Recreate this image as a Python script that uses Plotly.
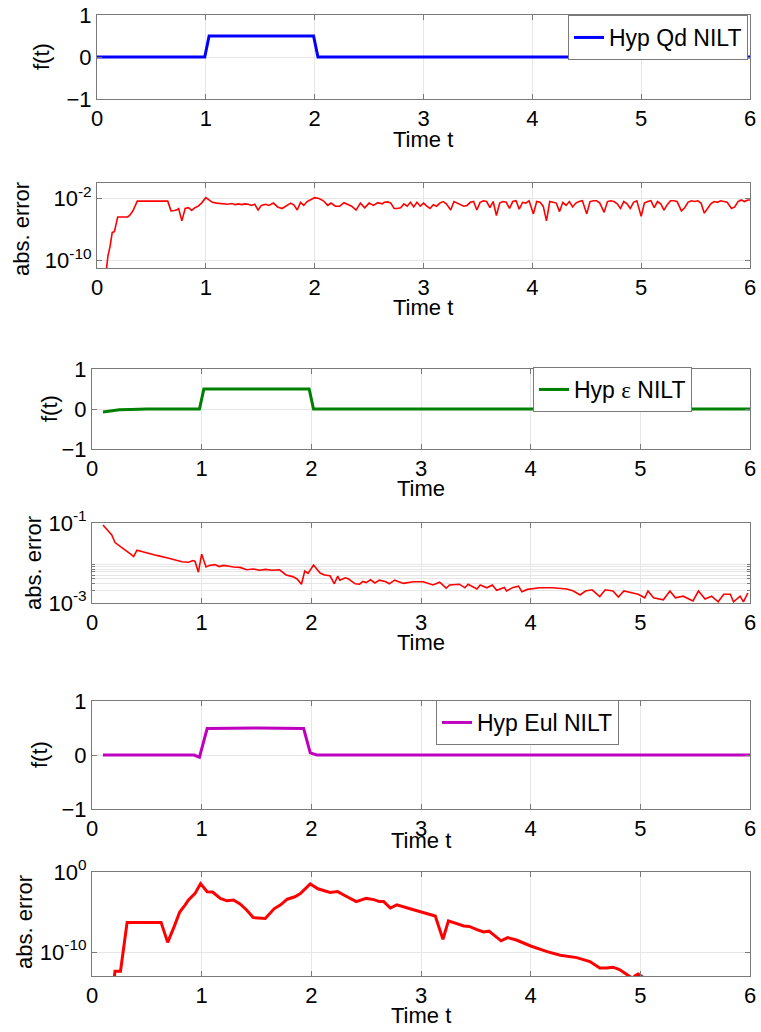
import numpy as np
import plotly.graph_objects as go

# ---------------- data ----------------
# Panel 1: Hyp Qd NILT
t_qd = [0.0, 0.5, 0.99, 1.03, 1.5, 1.99, 2.03, 2.5, 3.0, 3.5, 4.0, 4.5, 5.0, 5.5, 6.0]
f_qd = [0.0, 0.0, 0.0, 0.5, 0.5, 0.5, 0.0, 0.0, 0.0, 0.0, 0.0, 0.0, 0.0, 0.0, 0.0]

# Panel 2: abs. error of Qd (log10 of error)
t_e1 = [0.08, 0.10, 0.12, 0.14, 0.16, 0.19, 0.28, 0.30, 0.33, 0.37, 0.65, 0.68, 0.71, 0.73, 0.75,
        0.78, 0.81, 0.84, 0.87, 0.90, 0.93, 0.96, 1.00, 1.03, 1.06, 1.10, 1.15, 1.20, 1.24, 1.27,
        1.30, 1.33, 1.36, 1.39, 1.42, 1.45, 1.48, 1.51, 1.55, 1.58, 1.62, 1.66, 1.70, 1.74, 1.78,
        1.81, 1.84, 1.87, 1.90, 1.93, 1.96, 2.00, 2.04, 2.08, 2.12, 2.15, 2.19, 2.23, 2.27, 2.30,
        2.34, 2.38, 2.42, 2.46, 2.50, 2.54, 2.58, 2.62, 2.64, 2.67, 2.70, 2.73, 2.76, 2.79, 2.82,
        2.85, 2.88, 2.91, 2.94, 2.97, 3.00, 3.03, 3.06, 3.09, 3.12, 3.15, 3.18, 3.21, 3.25, 3.28,
        3.31, 3.34, 3.37, 3.40, 3.43, 3.46, 3.49, 3.52, 3.55, 3.58, 3.61, 3.64, 3.67, 3.70, 3.73,
        3.76, 3.79, 3.82, 3.85, 3.88, 3.91, 3.94, 3.97, 4.01, 4.04, 4.07, 4.10, 4.13, 4.16, 4.19,
        4.22, 4.25, 4.28, 4.31, 4.34, 4.37, 4.40, 4.43, 4.46, 4.50, 4.53, 4.56, 4.59, 4.62, 4.66,
        4.69, 4.72, 4.75, 4.78, 4.81, 4.84, 4.87, 4.90, 4.93, 4.96, 5.00, 5.03, 5.06, 5.09, 5.12,
        5.15, 5.18, 5.21, 5.24, 5.27, 5.30, 5.33, 5.37, 5.40, 5.43, 5.46, 5.49, 5.52, 5.55, 5.58,
        5.61, 5.64, 5.67, 5.70, 5.73, 5.76, 5.79, 5.83, 5.86, 5.89, 5.92, 5.95, 5.98, 6.00]
lg_e1 = [-12.0, -9.5, -8.2, -6.4, -6.3, -4.4, -4.4, -4.2, -3.6, -2.35, -2.35, -3.6, -3.55, -3.5, -3.3,
         -4.9, -3.3, -3.2, -3.55, -3.2, -3.0, -2.6, -1.9, -2.2, -2.5, -2.6, -2.7, -2.75, -2.65, -2.8,
         -2.7, -2.8, -2.7, -2.75, -2.9, -2.75, -3.5, -2.9, -2.75, -2.9, -2.6, -3.1, -3.3, -2.9, -2.6,
         -2.85, -3.5, -2.5, -2.9, -2.4, -2.2, -1.9, -2.0, -2.3, -2.9, -2.6, -3.0, -3.0, -2.55, -2.7,
         -3.0, -3.5, -2.6, -3.2, -2.6, -2.9, -2.55, -2.7, -2.5, -2.45, -2.6, -3.3, -3.3, -3.2, -2.7,
         -3.0, -2.5, -3.1, -2.5, -3.0, -2.6, -3.0, -3.3, -2.8, -3.0, -2.6, -2.4, -2.7, -3.5, -2.4,
         -2.6, -2.9, -3.0, -2.9, -2.5, -2.4, -3.5, -2.5, -2.3, -2.4, -3.2, -2.4, -4.2, -2.6, -2.4,
         -2.5, -3.3, -2.4, -2.3, -3.4, -2.5, -2.6, -2.3, -4.0, -2.4, -2.5, -3.0, -4.9, -2.4, -2.5,
         -2.6, -3.7, -2.5, -2.9, -2.4, -3.1, -2.6, -2.4, -2.3, -4.0, -2.4, -2.3, -2.3, -2.6, -3.8,
         -2.4, -2.3, -2.4, -2.7, -3.3, -2.4, -2.7, -3.3, -2.5, -2.3, -4.3, -2.6, -2.4, -2.3, -3.2,
         -2.4, -2.7, -3.5, -2.8, -2.3, -2.3, -2.4, -3.6, -3.2, -2.5, -2.3, -2.4, -2.3, -2.6, -3.9,
         -3.3, -2.7, -2.4, -2.5, -2.3, -2.4, -2.5, -3.3, -3.1, -2.4, -2.2, -2.4, -2.2, -2.2]

# Panel 3: Hyp epsilon NILT
t_eps = [0.10, 0.18, 0.25, 0.35, 0.5, 0.98, 1.02, 1.5, 1.98, 2.02, 2.5, 3.0, 4.0, 5.0, 6.0]
f_eps = [-0.075, -0.04, -0.02, -0.01, 0.0, 0.0, 0.5, 0.5, 0.5, 0.0, 0.0, 0.0, 0.0, 0.0, 0.0]

# Panel 4: abs. error of epsilon (log10)
t_e2 = [0.10, 0.14, 0.18, 0.21, 0.25, 0.30, 0.35, 0.38, 0.41, 0.50, 0.59, 0.70, 0.82, 0.88, 0.92,
        0.94, 0.97, 1.00, 1.04, 1.07, 1.12, 1.16, 1.20, 1.25, 1.29, 1.35, 1.41, 1.47, 1.53, 1.58,
        1.64, 1.71, 1.77, 1.83, 1.87, 1.91, 1.94, 1.97, 2.02, 2.08, 2.12, 2.17, 2.21, 2.24, 2.26,
        2.31, 2.34, 2.40, 2.44, 2.47, 2.50, 2.54, 2.58, 2.62, 2.68, 2.71, 2.76, 2.84, 2.93, 3.02,
        3.11, 3.17, 3.23, 3.26, 3.35, 3.40, 3.43, 3.51, 3.54, 3.60, 3.65, 3.69, 3.76, 3.78, 3.84,
        3.89, 3.92, 3.97, 4.01, 4.08, 4.20, 4.33, 4.39, 4.45, 4.50, 4.56, 4.63, 4.68, 4.75, 4.80,
        4.85, 4.91, 4.98, 5.04, 5.07, 5.12, 5.21, 5.27, 5.32, 5.39, 5.48, 5.53, 5.59, 5.65, 5.71,
        5.76, 5.82, 5.85, 5.91, 5.94, 5.98]
lg_e2 = [-1.05, -1.18, -1.30, -1.49, -1.58, -1.67, -1.77, -1.84, -1.68, -1.75, -1.81, -1.88, -1.97, -1.98, -1.94,
         -1.96, -2.23, -1.78, -2.10, -2.06, -2.04, -2.09, -2.06, -2.08, -2.10, -2.11, -2.17, -2.15, -2.18, -2.16,
         -2.18, -2.17, -2.30, -2.34, -2.40, -2.53, -2.20, -2.26, -2.05, -2.25, -2.30, -2.32, -2.52, -2.33, -2.43,
         -2.37, -2.40, -2.52, -2.53, -2.46, -2.49, -2.42, -2.50, -2.43, -2.47, -2.52, -2.43, -2.51, -2.47, -2.47,
         -2.55, -2.48, -2.63, -2.55, -2.53, -2.62, -2.53, -2.65, -2.55, -2.62, -2.55, -2.68, -2.61, -2.70, -2.61,
         -2.58, -2.72, -2.66, -2.64, -2.62, -2.62, -2.65, -2.70, -2.80, -2.70, -2.67, -2.84, -2.67, -2.70, -2.85,
         -2.70, -2.73, -2.78, -2.87, -2.70, -2.87, -2.92, -2.70, -2.87, -2.83, -2.95, -2.70, -2.90, -2.83, -2.97,
         -2.78, -2.78, -2.97, -2.83, -2.97, -2.75]

# Panel 5: Hyp Eul NILT
t_eul = [0.10, 0.5, 0.93, 0.98, 1.05, 1.5, 1.93, 1.99, 2.05, 2.5, 3.0, 4.0, 5.0, 6.0]
f_eul = [0.0, 0.0, 0.0, -0.04, 0.49, 0.5, 0.49, 0.04, 0.0, 0.0, 0.0, 0.0, 0.0, 0.0]

# Panel 6: abs. error of Eul (log10)
t_e3 = [0.20, 0.21, 0.26, 0.32, 0.63, 0.69, 0.75, 0.80, 0.85, 0.88, 0.94, 0.99, 1.05, 1.10, 1.17,
        1.23, 1.29, 1.35, 1.41, 1.47, 1.58, 1.66, 1.72, 1.78, 1.85, 1.90, 1.99, 2.06, 2.17, 2.24,
        2.30, 2.41, 2.50, 2.57, 2.62, 2.66, 2.72, 2.78, 2.90, 3.00, 3.13, 3.20, 3.25, 3.39, 3.44,
        3.51, 3.57, 3.62, 3.67, 3.73, 3.79, 3.87, 4.00, 4.15, 4.27, 4.42, 4.54, 4.63, 4.69, 4.75,
        4.81, 4.90, 4.93, 4.95, 4.98, 5.01, 5.03]
lg_e3 = [-13.5, -12.4, -12.4, -6.3, -6.3, -8.8, -6.8, -5.0, -4.1, -3.5, -2.67, -1.45, -2.46, -2.5, -3.3,
         -3.6, -3.5, -4.0, -4.75, -5.7, -5.8, -4.6, -4.1, -3.4, -3.1, -2.7, -1.5, -2.1, -2.55, -2.45,
         -2.9, -3.7, -3.3, -3.45, -3.7, -3.7, -4.5, -4.1, -4.6, -4.96, -5.5, -8.4, -6.1, -6.75, -6.8,
         -7.2, -7.5, -7.4, -7.9, -8.6, -8.2, -8.5, -9.25, -9.95, -10.4, -10.7, -11.2, -12.0, -12.0, -11.9,
         -12.2, -12.95, -13.3, -13.0, -12.75, -13.0, -13.4]

x_ticks = [0, 1, 2, 3, 4, 5, 6]
f_ticks = [-1, 0, 1]

# ---------------- layout helpers ----------------
W, H = 761, 1032
FONT = "Liberation Sans, Arial, sans-serif"
AXC = "#7a7a7a"
GRID = "#e6e6e6"

def px(v):
    return v / W

def py(v):
    return 1 - v / H

# pixel boxes: (left, right, top, bottom)
boxes = [
    (97, 750, 15, 99),
    (97, 750, 183, 268),
    (92, 750, 369, 449),
    (92, 750, 523, 603),
    (92, 750, 701, 809),
    (92, 750, 872, 976),
]

fig = go.Figure()

eps_name = "Hyp <span style=\"font-family:'Liberation Serif', serif\">\u03b5</span> NILT"

series = [
    (t_qd, f_qd, "#0000ff", 3, "Hyp Qd NILT", "legend", False),
    (t_e1, lg_e1, "#ff0000", 1.6, None, None, True),
    (t_eps, f_eps, "#008000", 3, eps_name, "legend2", False),
    (t_e2, lg_e2, "#ff0000", 1.6, None, None, True),
    (t_eul, f_eul, "#bf00bf", 3, "Hyp Eul NILT", "legend3", False),
    (t_e3, lg_e3, "#ff0000", 3, None, None, True),
]

for i, (tx, ty, col, lw, name, leg, is_log) in enumerate(series):
    k = "" if i == 0 else str(i + 1)
    yv = list(10.0 ** np.array(ty)) if is_log else ty
    tr = dict(x=tx, y=yv, mode="lines", line=dict(color=col, width=lw),
              xaxis="x" + k, yaxis="y" + k, showlegend=name is not None,
              hoverinfo="skip")
    if name is not None:
        tr["name"] = name
        tr["legend"] = leg
    fig.add_trace(go.Scatter(**tr))

axis_common = dict(showline=True, mirror="ticks", linecolor=AXC, linewidth=1,
                   ticks="inside", ticklen=5, tickcolor=AXC, showgrid=True,
                   gridcolor=GRID, gridwidth=1, zeroline=False, automargin=False,
                   tickfont=dict(family=FONT, size=22, color="black"))

layout = dict(width=W, height=H,
              margin=dict(l=0, r=0, t=0, b=0, pad=0, autoexpand=False),
              paper_bgcolor="white", plot_bgcolor="white", showlegend=True,
              font=dict(family=FONT, color="black"))

log_specs = {
    1: dict(range=[-11, 0], tickvals=[1e-10, 1e-2],
            ticktext=["10<sup>-10</sup>", "10<sup>-2</sup>"], minor=None),
    3: dict(range=[-3, -1], tickvals=[1e-3, 1e-1],
            ticktext=["10<sup>-3</sup>", "10<sup>-1</sup>"],
            minor=dict(tickvals=[2e-3, 3e-3, 4e-3, 5e-3, 6e-3, 7e-3, 8e-3, 9e-3],
                       showgrid=True, gridcolor=GRID, ticks="inside", ticklen=3, tickcolor=AXC)),
    5: dict(range=[-13, 0], tickvals=[1e-10, 1e0],
            ticktext=["10<sup>-10</sup>", "10<sup>0</sup>"], minor=None),
}

for i, (l, r, t, b) in enumerate(boxes):
    k = "" if i == 0 else str(i + 1)
    xa = dict(axis_common, domain=[px(l), px(r)], range=[0, 6], tickvals=x_ticks,
              anchor="y" + k)
    ya = dict(axis_common, domain=[py(b), py(t)], anchor="x" + k)
    if i in log_specs:
        s = log_specs[i]
        ya.update(type="log", range=s["range"], tickvals=s["tickvals"], ticktext=s["ticktext"])
        if s["minor"] is not None:
            ya["minor"] = s["minor"]
    else:
        ya.update(range=[-1, 1], tickvals=f_ticks)
    layout["xaxis" + k] = xa
    layout["yaxis" + k] = ya

legend_common = dict(bgcolor="white", bordercolor=AXC, borderwidth=1,
                     font=dict(family=FONT, size=23, color="black"),
                     xanchor="right", yanchor="top", itemwidth=30,
                     tracegroupgap=0)
layout["legend"] = dict(legend_common, x=px(748), y=py(15))
layout["legend2"] = dict(legend_common, x=px(692), y=py(367))
layout["legend3"] = dict(legend_common, x=px(619), y=py(700))

fig.update_layout(**layout)

# axis titles as annotations
xt = [("Time t", 423, 139), ("Time t", 423, 307), ("Time", 421, 489),
      ("Time", 421, 642), ("Time t", 421, 840), ("Time t", 421, 1015)]
for text, x, y in xt:
    fig.add_annotation(text=text, x=px(x), y=py(y), xref="paper", yref="paper",
                       showarrow=False, xanchor="center", yanchor="middle",
                       font=dict(family=FONT, size=22, color="black"))
yt = [("f(t)", 42, 57), ("abs. error", 22, 229), ("f(t)", 49, 409),
      ("abs. error", 33, 563), ("f(t)", 39, 755), ("abs. error", 24, 922)]
for text, x, y in yt:
    fig.add_annotation(text=text, x=px(x), y=py(y), xref="paper", yref="paper",
                       showarrow=False, xanchor="center", yanchor="middle", textangle=-90,
                       font=dict(family=FONT, size=22, color="black"))

fig.write_html("out.html")
